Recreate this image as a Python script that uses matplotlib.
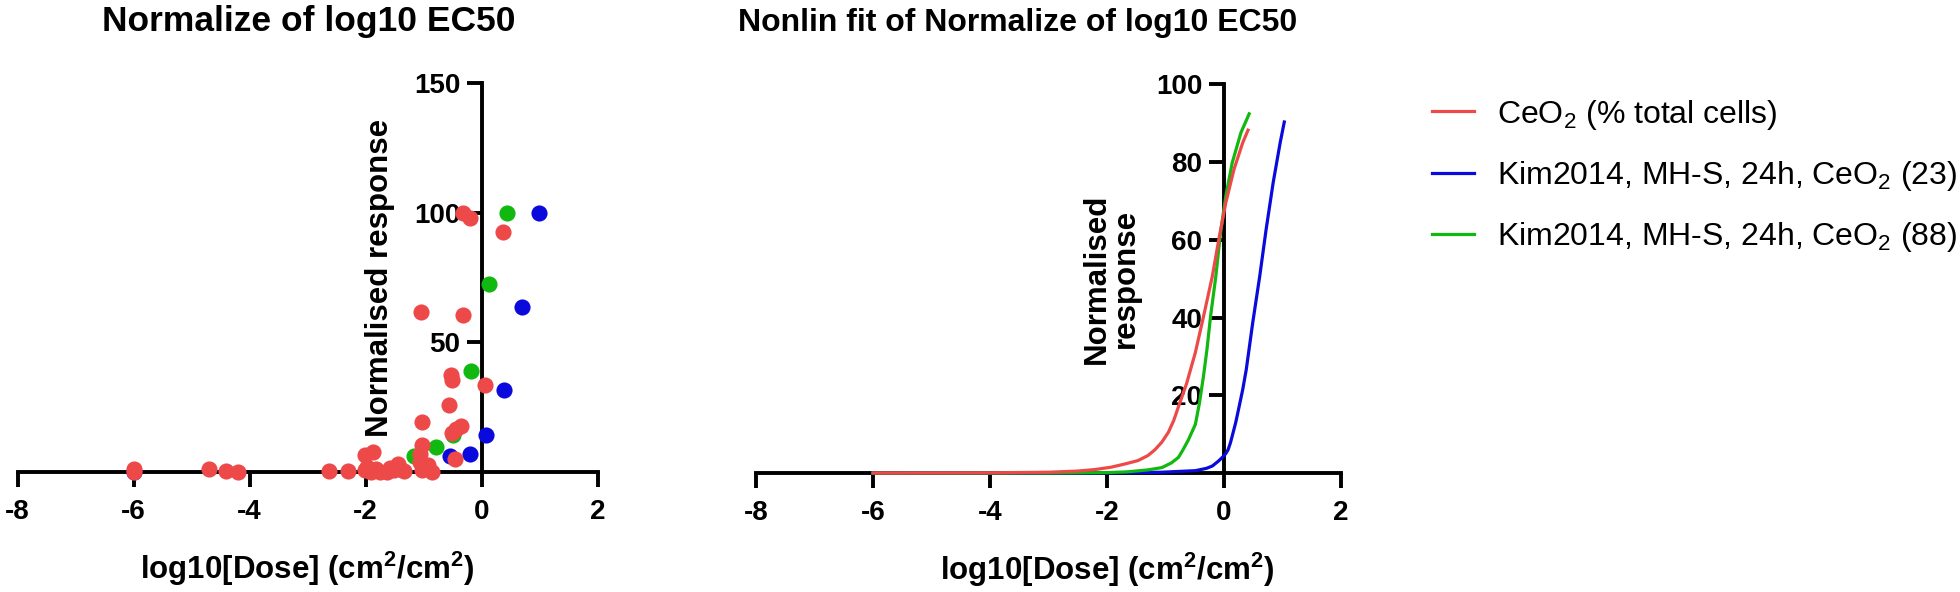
import matplotlib
matplotlib.use("Agg")
import matplotlib.pyplot as plt

plt.rcParams['font.family'] = ['Liberation Sans', 'DejaVu Sans']
plt.rcParams['mathtext.fontset'] = 'custom'
plt.rcParams['mathtext.rm'] = 'Liberation Sans'
plt.rcParams['mathtext.bf'] = 'Liberation Sans:bold'
plt.rcParams['axes.unicode_minus'] = False

RED = '#EE4949'
BLUE = '#0A0ADC'
GREEN = '#10B810'

# --- left panel: normalised points, log10 dose ---
red_x = [-6.0, -6.0, -4.71, -4.40, -4.21, -2.64, -2.31,
         -2.01, -1.87, -2.01, -1.97, -1.90, -1.82, -1.75, -1.63, -1.58, -1.52, -1.44, -1.40, -1.34,
         -1.03, -1.03, -1.06, -1.06, -1.03, -0.86, -0.92,
         -0.46, -0.57, -0.52, -0.45, -0.36,
         -0.53, -0.52, 0.06, -1.05, -0.33, -0.32, -0.20, 0.36]
red_y = [1.0, 0.0, 0.9, 0.3, 0.0, 0.3, 0.3,
         6.4, 7.7, 0.6, 2.0, 0.0, 1.0, 0.0, 0.0, 1.5, 0.6, 3.0, 1.0, 0.4,
         19.3, 10.3, 7.0, 3.9, 0.6, 0.0, 2.6,
         5.1, 25.7, 15.0, 16.5, 17.8,
         37.3, 35.4, 33.5, 61.8, 60.5, 100.0, 98.0, 92.4]

green_x = [0.43, 0.13, -0.18, -0.78, -1.16, -0.49]
green_y = [100.0, 72.5, 39.0, 9.7, 6.2, 14.2]

blue_x = [0.99, 0.70, 0.39, 0.08, -0.20, -0.55, -6.0]
blue_y = [100.0, 63.7, 31.5, 14.0, 7.0, 6.2, 0.0]

# --- right panel: fitted curves ---
fit_red_x = [-6.0, -4.0, -3.0, -2.5, -2.2, -1.93, -1.7, -1.47, -1.3, -1.18, -1.06, -0.95,
             -0.86, -0.78, -0.64, -0.49, -0.35, -0.20, -0.09, 0.03, 0.17, 0.32, 0.41]
fit_red_y = [0.0, 0.05, 0.2, 0.5, 0.9, 1.5, 2.3, 3.2, 4.5, 6.0, 8.0, 10.5,
             13.5, 17.0, 23.0, 31.0, 40.3, 50.6, 60.0, 69.5, 78.1, 85.0, 88.2]

fit_green_x = [-6.0, -3.0, -2.0, -1.65, -1.3, -1.06, -0.9, -0.78, -0.7, -0.61, -0.55, -0.49,
               -0.42, -0.35, -0.29, -0.23, -0.14, -0.06, 0.03, 0.14, 0.29, 0.43]
fit_green_y = [0.0, 0.0, 0.1, 0.3, 0.8, 1.4, 2.6, 4.0, 6.0, 8.5, 10.5, 12.5,
               18.0, 25.0, 32.0, 40.3, 50.6, 61.8, 71.2, 79.8, 87.6, 92.4]

fit_blue_x = [-6.0, -2.0, -1.07, -0.49, -0.3, -0.2, -0.1, -0.03, 0.03, 0.07, 0.11, 0.14,
              0.2, 0.26, 0.32, 0.38, 0.49, 0.61, 0.72, 0.84, 0.96, 1.03]
fit_blue_y = [0.0, 0.0, 0.2, 0.6, 1.2, 1.8, 3.0, 4.0, 5.0, 6.0, 7.8, 9.5,
              13.0, 17.2, 21.5, 26.6, 38.6, 50.6, 62.7, 74.7, 85.0, 90.3]

legend_labels = ['CeO$_2$ (% total cells)',
                 'Kim2014, MH-S, 24h, CeO$_2$ (23)',
                 'Kim2014, MH-S, 24h, CeO$_2$ (88)']

x_ticks = [-8, -6, -4, -2, 0, 2]
left_yticks = [50, 100, 150]
right_yticks = [20, 40, 60, 80, 100]

XLABEL = r'log10[Dose] (cm$^{\mathbf{2}}$/cm$^{\mathbf{2}}$)'
LW = 2.8


def style_axis(ax, yticks, ymax):
    ax.set_xlim(-8, 2)
    ax.set_ylim(0, ymax)
    ax.spines['left'].set_position(('data', 0))
    ax.spines['top'].set_visible(False)
    ax.spines['right'].set_visible(False)
    for s in ('left', 'bottom'):
        ax.spines[s].set_linewidth(LW)
    ax.set_xticks(x_ticks)
    ax.set_yticks(yticks)
    ax.tick_params(width=LW, length=10.5, labelsize=20)
    ax.tick_params(axis='y', pad=5)
    ax.tick_params(axis='x', pad=9)
    for lab in ax.get_xticklabels() + ax.get_yticklabels():
        lab.set_fontweight('bold')
    ax.set_facecolor('none')


fig = plt.figure(figsize=(19.6, 5.92), dpi=100)
ax1 = fig.add_axes([0.00903, 0.2032, 0.2959, 0.656])
ax2 = fig.add_axes([0.3857, 0.201, 0.2985, 0.6566])

# left: scatter
style_axis(ax1, left_yticks, 150)
ax1.scatter(blue_x, blue_y, s=135, color=BLUE, linewidths=0, clip_on=False, zorder=3)
ax1.scatter(green_x, green_y, s=135, color=GREEN, linewidths=0, clip_on=False, zorder=3)
ax1.scatter(red_x, red_y, s=135, color=RED, linewidths=0, clip_on=False, zorder=4)
ax1.set_xlabel(XLABEL, fontsize=22.5, fontweight='bold')
ax1.xaxis.set_label_coords(0.5, -0.2)
ax1.xaxis.label.set_va('top')
ax1.text(0.625, 0.5, 'Normalised response', transform=ax1.transAxes, rotation=90,
         ha='center', va='center', fontsize=22.5, fontweight='bold')

# right: nonlin fit curves
style_axis(ax2, right_yticks, 100)
l_blue, = ax2.plot(fit_blue_x, fit_blue_y, color=BLUE, lw=2.3, clip_on=False, zorder=3)
l_green, = ax2.plot(fit_green_x, fit_green_y, color=GREEN, lw=2.3, clip_on=False, zorder=3)
l_red, = ax2.plot(fit_red_x, fit_red_y, color=RED, lw=2.3, clip_on=False, zorder=4)
ax2.set_xlabel(XLABEL, fontsize=22.5, fontweight='bold')
ax2.xaxis.set_label_coords(0.6, -0.2)
ax2.xaxis.label.set_va('top')
ax2.text(0.608, 0.5, 'Normalised\nresponse', transform=ax2.transAxes, rotation=90,
         ha='center', va='center', multialignment='center', fontsize=22.5,
         fontweight='bold', linespacing=0.95)

fig.text(0.1574, 0.947, 'Normalize of log10 EC50', ha='center', va='baseline',
         fontsize=25.5, fontweight='bold')
fig.text(0.519, 0.947, 'Nonlin fit of Normalize of log10 EC50', ha='center', va='baseline',
         fontsize=23, fontweight='bold')

fig.legend([l_red, l_blue, l_green], legend_labels, loc='center left',
           bbox_to_anchor=(0.7306, 0.703), frameon=False, fontsize=23,
           handlelength=1.3, handletextpad=0.75, labelspacing=0.85,
           borderpad=0, borderaxespad=0)

fig.savefig('out.png', dpi=100)
